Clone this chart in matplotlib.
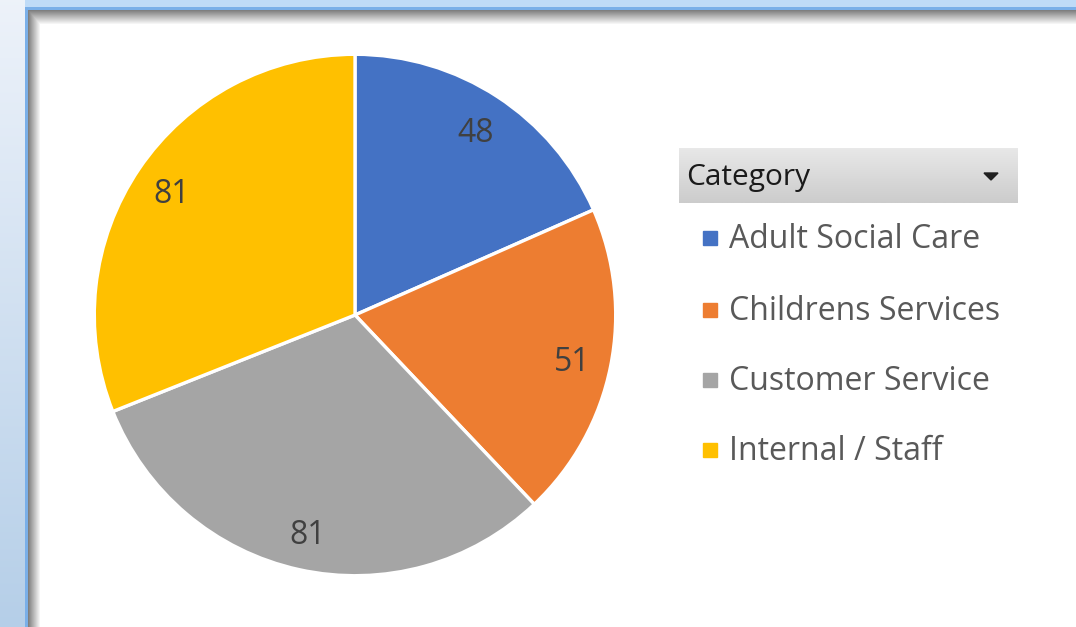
import numpy as np
import matplotlib.pyplot as plt
from matplotlib.patches import Rectangle, Polygon

categories = ['Adult Social Care', 'Childrens Services', 'Customer Service', 'Internal / Staff']
values = [48, 51, 81, 81]
colors = ['#4472C4', '#ED7D31', '#A5A5A5', '#FFC000']
legend_title = 'Category'

plt.rcParams['font.family'] = ['Open Sans', 'DejaVu Sans']

W, H = 1076, 627
fig = plt.figure(figsize=(W / 100, H / 100), dpi=100)

# window frame background (Excel-like)
bg = np.ones((H, W, 3))
yy, xx = np.mgrid[0:H, 0:W]
t = yy / H
left = xx < 25
bg[left] = (np.stack([0.93 - 0.22 * t, 0.95 - 0.14 * t, 0.98 - 0.07 * t], axis=-1))[left]
top = (yy < 7) & ~left
bg[top] = [0.75, 0.86, 0.97]
frame = ((xx >= 25) & (xx < 28) & (yy >= 7)) | ((yy >= 7) & (yy < 10) & (xx >= 25))
bg[frame] = [0.48, 0.69, 0.91]
inner = (xx >= 28) & (yy >= 10)
dx = np.clip((xx - 28) / 12.0, 0, 1)
dy = np.clip((yy - 10) / 14.0, 0, 1)
shade = np.minimum(0.5 + 0.5 * dx, 0.5 + 0.5 * dy)
for c in range(3):
    bg[..., c] = np.where(inner, shade, bg[..., c])
bax = fig.add_axes([0, 0, 1, 1])
bax.imshow(bg, extent=[0, W, H, 0], aspect='auto', interpolation='nearest')
bax.set_xlim(0, W)
bax.set_ylim(H, 0)
bax.axis('off')

# pie
cx, cy, r = 355, 315, 262
ax = fig.add_axes([(cx - r) / W, (H - cy - r) / H, 2 * r / W, 2 * r / H])
wedges, texts = ax.pie(values, colors=colors, startangle=90, counterclock=False,
                       labels=[str(v) for v in values], labeldistance=0.85,
                       wedgeprops=dict(edgecolor='white', linewidth=2.4),
                       textprops=dict(fontsize=23, color='#404040', ha='center', va='center_baseline'))
ax.set_xlim(-1.005, 1.005)
ax.set_ylim(-1.005, 1.005)
ax.set_aspect('equal')

# legend header
hdr = np.linspace(0.91, 0.80, 50)[:, None] * np.ones((50, 10))
bax.imshow(np.dstack([hdr, hdr, hdr]), extent=[679, 1018, 203, 148], aspect='auto', zorder=2)
bax.set_xlim(0, W)
bax.set_ylim(H, 0)
bax.text(686, 178, legend_title, fontsize=21.5, color='#1a1a1a', va='center', ha='left', zorder=3)
bax.add_patch(Polygon([[984, 173], [998, 173], [991, 180]], closed=True, color='#202020', zorder=3))

# legend entries
ys = [238, 310, 380, 450]
for cat, col, y in zip(categories, colors, ys):
    bax.add_patch(Rectangle((703, y - 7), 14, 14, color=col, zorder=3))
    bax.text(729, y + 2, cat, fontsize=23, color='#595959', va='center', ha='left', zorder=3)

fig.savefig('out.png', dpi=100)
